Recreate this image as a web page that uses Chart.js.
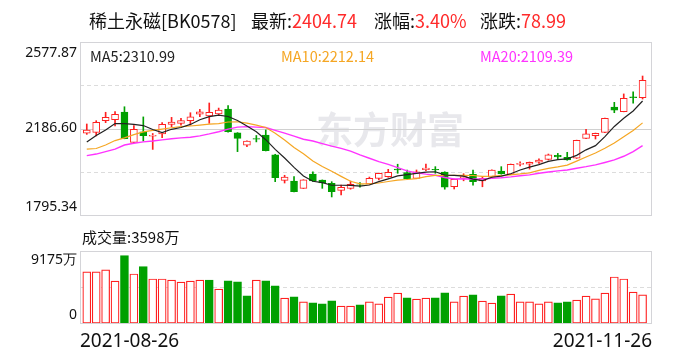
<!DOCTYPE html>
<html>
<head>
<meta charset="utf-8">
<script src="https://cdn.jsdelivr.net/npm/chart.js@4.4.0/dist/chart.umd.min.js"></script>
<style>
  body { margin: 0; background: #fff; }
  #wrap { position: relative; width: 688px; height: 360px; overflow: hidden; font-family: "Noto Sans CJK SC", "Noto Sans", sans-serif; }
  canvas { position: absolute; left: 0; top: 0; }
  .txt { position: absolute; white-space: nowrap; line-height: 1; color: #111; }
  .red { color: #ff2a2a; }
</style>
</head>
<body>
<div id="wrap">
  <canvas id="priceChart" width="688" height="360"></canvas>
  <canvas id="volChart" width="688" height="360"></canvas>
  <div class="txt" id="t1" style="left:89px;top:11px;font-size:18px"></div>
  <div class="txt" id="t2" style="left:251px;top:11px;font-size:18px"></div>
  <div class="txt" id="t3" style="left:374px;top:11px;font-size:18px"></div>
  <div class="txt" id="t4" style="left:480px;top:11px;font-size:18px"></div>
  <div class="txt" id="ma5Text" style="left:90px;top:49px;font-size:14.5px;color:#222"></div>
  <div class="txt" id="ma10Text" style="left:281px;top:49px;font-size:14.5px;color:#f5a623"></div>
  <div class="txt" id="ma20Text" style="left:480px;top:49px;font-size:14.5px;color:#ff33ff"></div>
  <div class="txt" id="volText" style="left:82px;top:229px;font-size:15px"></div>
</div>
<script>
// ===== 稀土永磁 K线 =====
const dates = [
  "2021-08-26", "2021-08-27", "2021-08-30", "2021-08-31",
  "2021-09-01", "2021-09-02", "2021-09-03", "2021-09-06", "2021-09-07", "2021-09-08", "2021-09-09", "2021-09-10",
  "2021-09-13", "2021-09-14", "2021-09-15", "2021-09-16", "2021-09-17", "2021-09-22", "2021-09-23", "2021-09-24",
  "2021-09-27", "2021-09-28", "2021-09-29", "2021-09-30",
  "2021-10-08", "2021-10-11", "2021-10-12", "2021-10-13", "2021-10-14", "2021-10-15", "2021-10-18", "2021-10-19",
  "2021-10-20", "2021-10-21", "2021-10-22", "2021-10-25", "2021-10-26", "2021-10-27", "2021-10-28", "2021-10-29",
  "2021-11-01", "2021-11-02", "2021-11-03", "2021-11-04", "2021-11-05", "2021-11-08", "2021-11-09", "2021-11-10",
  "2021-11-11", "2021-11-12", "2021-11-15", "2021-11-16", "2021-11-17", "2021-11-18", "2021-11-19", "2021-11-22",
  "2021-11-23", "2021-11-24", "2021-11-25", "2021-11-26"
];

const opens = [2165, 2169, 2222, 2227, 2261, 2124, 2172, 2152, 2162, 2205,
  2210, 2222, 2251, 2243, 2252, 2275, 2167, 2111, 2141, 2157,
  2067, 1952, 1949, 1916, 1980, 1953, 1939, 1907, 1916, 1932,
  1936, 1961, 1969, 2003, 1987, 1961, 2000, 2002, 1990, 1923,
  1964, 1979, 1949, 1966, 1994, 1979, 2024, 2025, 2034, 2047,
  2065, 2056, 2052, 2142, 2154, 2169, 2283, 2263, 2330, 2326];
const highs = [2207, 2222, 2260, 2263, 2285, 2200, 2239, 2164, 2213, 2237,
  2233, 2258, 2273, 2302, 2279, 2290, 2168, 2131, 2155, 2180,
  2070, 1975, 1969, 1955, 1991, 1954, 1946, 1931, 1949, 1942,
  1967, 1985, 2002, 2025, 1999, 1999, 2026, 2014, 1991, 1958,
  1982, 1999, 1969, 2000, 2014, 2026, 2036, 2035, 2049, 2071,
  2074, 2079, 2134, 2183, 2166, 2234, 2305, 2343, 2353, 2424];
const lows = [2160, 2153, 2213, 2198, 2140, 2122, 2130, 2092, 2145, 2195,
  2202, 2202, 2240, 2210, 2245, 2170, 2082, 2104, 2126, 2085,
  1946, 1940, 1900, 1915, 1947, 1916, 1877, 1886, 1912, 1921,
  1935, 1954, 1966, 1984, 1957, 1960, 1996, 1984, 1912, 1913,
  1950, 1930, 1923, 1965, 1980, 1978, 2017, 2003, 2029, 2044,
  2047, 2043, 2051, 2141, 2139, 2168, 2258, 2262, 2301, 2320];
const closes = [2180, 2215, 2237, 2251, 2141, 2183, 2154, 2156, 2206, 2216,
  2222, 2239, 2262, 2260, 2270, 2172, 2142, 2130, 2138, 2086,
  1964, 1967, 1901, 1954, 1949, 1940, 1901, 1921, 1934, 1930,
  1961, 1984, 1988, 1999, 1960, 1991, 2008, 1999, 1921, 1957,
  1969, 1946, 1961, 1999, 1981, 2025, 2029, 2034, 2044, 2067,
  2058, 2044, 2133, 2162, 2165, 2233, 2270, 2323, 2325.75, 2404.74];

const ma5 = [2126, 2155, 2180, 2209, 2209, 2205, 2200, 2182, 2168, 2183,
  2191, 2205, 2226, 2240, 2247, 2241, 2223, 2198, 2172, 2136,
  2092, 2053, 2011, 1972, 1948, 1942, 1930, 1930, 1929, 1926,
  1931, 1946, 1959, 1972, 1978, 1984, 1989, 1991, 1976, 1975,
  1971, 1958, 1951, 1966, 1971, 1982, 1999, 2012, 2023, 2038,
  2046, 2049, 2065, 2090, 2109, 2150, 2196, 2233, 2266, 2310.99];
const ma10 = [2093, 2096, 2112, 2132, 2144, 2159, 2171, 2178, 2184, 2190,
  2195, 2198, 2202, 2206, 2209, 2216, 2217, 2211, 2202, 2191,
  2165, 2135, 2101, 2072, 2040, 2015, 1993, 1970, 1948, 1936,
  1936, 1940, 1947, 1953, 1956, 1960, 1969, 1975, 1974, 1975,
  1975, 1974, 1970, 1971, 1973, 1977, 1981, 1986, 1997, 2006,
  2013, 2021, 2039, 2058, 2076, 2097, 2121, 2149, 2178, 2212.14];
const ma20 = [2064, 2071, 2082, 2093, 2112, 2120, 2126, 2130, 2135, 2140,
  2144, 2147, 2153, 2162, 2172, 2184, 2193, 2195, 2193, 2191,
  2178, 2166, 2152, 2138, 2130, 2118, 2107, 2097, 2084, 2067,
  2052, 2037, 2024, 2010, 1995, 1986, 1980, 1975, 1965, 1958,
  1959, 1958, 1958, 1961, 1964, 1968, 1973, 1977, 1984, 1990,
  1995, 1999, 2007, 2014, 2022, 2033, 2045, 2061, 2082, 2109.39];

// 成交量 (万)
const volumes = [6505, 6505, 6761, 5350, 8596, 6248, 7185, 5607, 5607, 5478,
  5222, 5350, 5478, 5478, 4324, 5389, 5261, 3464, 5478, 5389,
  4748, 3169, 3336, 2695, 2566, 2438, 2823, 2143, 2143, 2310,
  2695, 2438, 3297, 3810, 3208, 3041, 3169, 3208, 3850, 2695,
  3426, 3593, 2784, 2528, 3464, 3682, 2695, 2695, 2438, 2695,
  2566, 2695, 2912, 3426, 3080, 3810, 5863, 5607, 3939, 3598];

const priceTicks = [1795.34, 2186.60, 2577.87];
const volTicks = [0, 9175];

const RED = "#ff2020";
const GREEN = "#00a000";
const n = dates.length;
const idx = dates.map((d, i) => i);
const isUp = closes.map((c, i) => c >= opens[i]);
const volUp = closes.map((c, i) => i === 0 ? c >= opens[0] : c >= closes[i - 1]);

// header texts
const last = closes[n - 1];
const chg = last - closes[n - 2];
document.getElementById("t1").textContent = "稀土永磁[BK0578]";
document.getElementById("t2").innerHTML = '最新:<span class="red">' + last.toFixed(2) + "</span>";
document.getElementById("t3").innerHTML = '涨幅:<span class="red">' + (chg / closes[n - 2] * 100).toFixed(2) + "%</span>";
document.getElementById("t4").innerHTML = '涨跌:<span class="red">' + chg.toFixed(2) + "</span>";
document.getElementById("ma5Text").textContent = "MA5:" + ma5[n - 1].toFixed(2);
document.getElementById("ma10Text").textContent = "MA10:" + ma10[n - 1].toFixed(2);
document.getElementById("ma20Text").textContent = "MA20:" + ma20[n - 1].toFixed(2);
document.getElementById("volText").textContent = "成交量:" + volumes[n - 1] + "万";

const LABEL_FONT = '14px "Noto Sans", sans-serif';

function hline(ctx, a, py, dashed, color) {
    ctx.beginPath();
    ctx.setLineDash(dashed ? [4, 3] : []);
    ctx.strokeStyle = color;
    ctx.lineWidth = 1;
    const yy = Math.round(py) + 0.5;
    ctx.moveTo(a.left, yy);
    ctx.lineTo(a.right, yy);
    ctx.stroke();
    ctx.setLineDash([]);
}

function frame(ctx, a) {
    ctx.strokeStyle = "#d4d4d8";
    ctx.lineWidth = 1;
    ctx.strokeRect(Math.round(a.left) + 0.5, Math.round(a.top) + 0.5, Math.round(a.right - a.left) - 1, Math.round(a.bottom - a.top));
}

// price panel: frame, grid, watermark and y labels
const pricePanel = {
    id: "pricePanel",
    beforeDatasetsDraw(chart) {
        const { ctx, chartArea: a, scales: { y } } = chart;
        ctx.save();
        ctx.fillStyle = "#e8e8ec";
        ctx.font = 'bold 37px "Noto Sans CJK SC"';
        ctx.textBaseline = "middle";
        ctx.fillText("东方财富", 316, 130);
        hline(ctx, a, y.getPixelForValue((priceTicks[0] + priceTicks[1]) / 2), true, "#dcdcdc");
        hline(ctx, a, y.getPixelForValue((priceTicks[1] + priceTicks[2]) / 2), true, "#dcdcdc");
        hline(ctx, a, y.getPixelForValue(priceTicks[1]), false, "#d0d0d0");
        frame(ctx, a);
        ctx.restore();
    },
    afterDraw(chart) {
        const { ctx, chartArea: a, scales: { y } } = chart;
        ctx.save();
        ctx.font = LABEL_FONT;
        ctx.fillStyle = "#111";
        ctx.textAlign = "right";
        ctx.textBaseline = "top";
        ctx.fillText(priceTicks[2].toFixed(2), a.left - 3, y.getPixelForValue(priceTicks[2]) + 4);
        ctx.textBaseline = "middle";
        ctx.fillText(priceTicks[1].toFixed(2), a.left - 3, y.getPixelForValue(priceTicks[1]));
        ctx.textBaseline = "bottom";
        ctx.fillText(priceTicks[0].toFixed(2), a.left - 3, y.getPixelForValue(priceTicks[0]) - 1);
        ctx.restore();
    }
};

// volume panel: frame, grid, labels and dates
const volPanel = {
    id: "volPanel",
    beforeDatasetsDraw(chart) {
        const { ctx, chartArea: a, scales: { y } } = chart;
        ctx.save();
        hline(ctx, a, y.getPixelForValue(volTicks[1] / 2), true, "#dcdcdc");
        frame(ctx, a);
        ctx.restore();
    },
    afterDraw(chart) {
        const { ctx, chartArea: a, scales: { y } } = chart;
        ctx.save();
        ctx.font = LABEL_FONT;
        ctx.fillStyle = "#111";
        ctx.textAlign = "right";
        ctx.textBaseline = "top";
        ctx.fillText(volTicks[1] + "万", a.left - 3, y.getPixelForValue(volTicks[1]) + 2);
        ctx.textBaseline = "bottom";
        ctx.fillText(String(volTicks[0]), a.left - 3, y.getPixelForValue(volTicks[0]) - 1);
        ctx.font = '19px "Noto Sans", sans-serif';
        ctx.textBaseline = "middle";
        ctx.textAlign = "left";
        ctx.fillText(dates[0], a.left, 342);
        ctx.textAlign = "right";
        ctx.fillText(dates[n - 1], a.right, 342);
        ctx.restore();
    }
};

// linear x so the first/last candles sit where the reference puts them
const xScale = { type: "linear", min: -0.72, max: 60, offset: false, display: false };

new Chart(document.getElementById("priceChart").getContext("2d"), {
    type: "bar",
    data: {
        datasets: [
            {
                type: "line", data: idx.map(i => ({ x: i, y: ma5[i] })),
                borderColor: "#222", borderWidth: 1.2, pointRadius: 0, order: 0
            },
            {
                type: "line", data: idx.map(i => ({ x: i, y: ma10[i] })),
                borderColor: "#f5a623", borderWidth: 1.2, pointRadius: 0, order: 0
            },
            {
                type: "line", data: idx.map(i => ({ x: i, y: ma20[i] })),
                borderColor: "#ff33ff", borderWidth: 1.4, pointRadius: 0, order: 0
            },
            {
                data: idx.map(i => ({ x: i, y: [opens[i], closes[i]] })),
                backgroundColor: isUp.map(u => u ? "#fff" : GREEN),
                borderColor: isUp.map(u => u ? RED : GREEN),
                borderWidth: 1, borderSkipped: false,
                barThickness: 7, grouped: false, order: 1
            },
            {
                data: idx.map(i => ({ x: i, y: [lows[i], highs[i]] })),
                backgroundColor: isUp.map(u => u ? RED : GREEN),
                barThickness: 1, grouped: false, order: 2
            }
        ]
    },
    options: {
        responsive: false,
        animation: false,
        devicePixelRatio: 1,
        layout: { padding: { left: 80, right: 36, top: 42, bottom: 145 } },
        scales: {
            x: xScale,
            y: { min: priceTicks[0], max: priceTicks[2], display: false }
        },
        plugins: { legend: { display: false }, tooltip: { enabled: false } }
    },
    plugins: [pricePanel]
});

new Chart(document.getElementById("volChart").getContext("2d"), {
    type: "bar",
    data: {
        datasets: [
            {
                data: idx.map(i => ({ x: i, y: volumes[i] })),
                backgroundColor: volUp.map(u => u ? "#fff" : GREEN),
                borderColor: volUp.map(u => u ? RED : GREEN),
                borderWidth: 1.2, borderSkipped: false,
                barThickness: 8, grouped: false
            }
        ]
    },
    options: {
        responsive: false,
        animation: false,
        devicePixelRatio: 1,
        layout: { padding: { left: 80, right: 36, top: 251, bottom: 37 } },
        scales: {
            x: xScale,
            y: { min: volTicks[0], max: volTicks[1], display: false }
        },
        plugins: { legend: { display: false }, tooltip: { enabled: false } }
    },
    plugins: [volPanel]
});
</script>
</body>
</html>
